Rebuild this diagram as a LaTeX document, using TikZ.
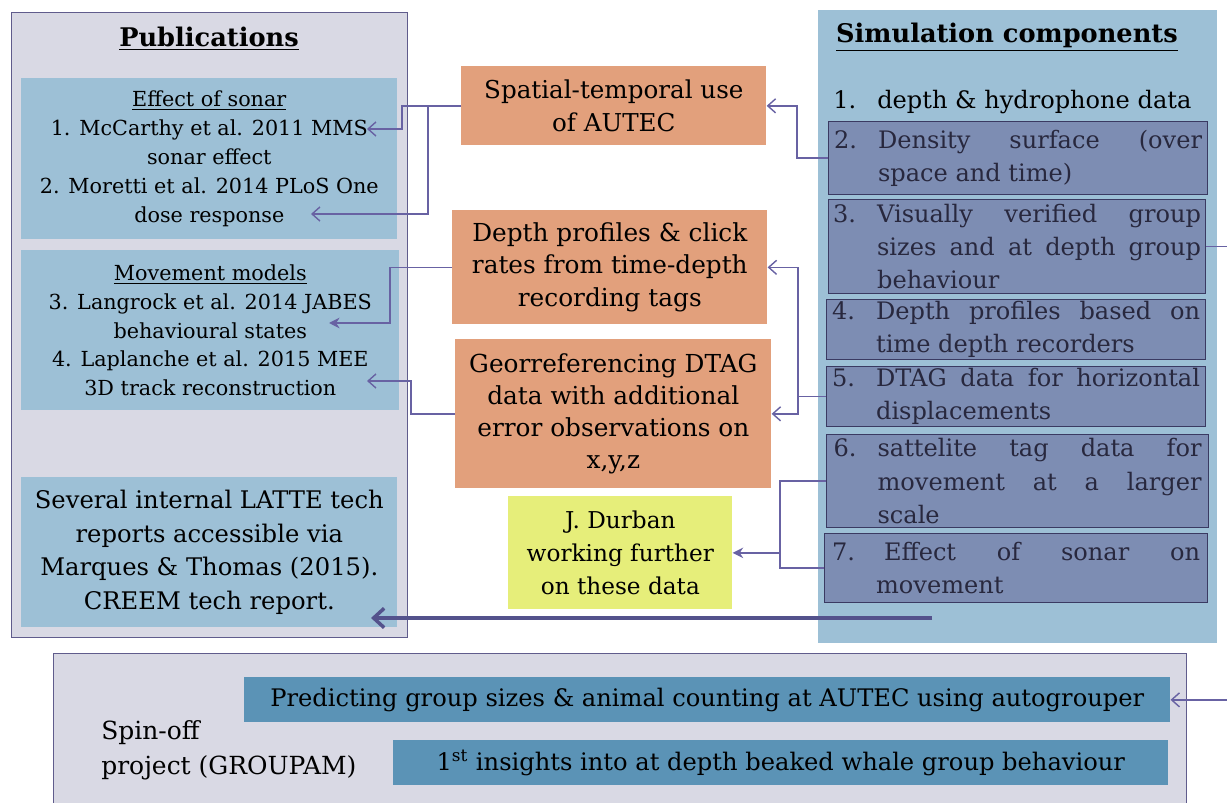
\documentclass[tikz,border=0pt]{standalone}
\usepackage{fontspec}
\setmainfont{DejaVu Serif}
\usetikzlibrary{arrows.meta}
\definecolor{graybg}{RGB}{217,217,228}
\definecolor{panelline}{RGB}{96,92,140}
\definecolor{lightblue}{RGB}{157,192,214}
\definecolor{orangebox}{RGB}{226,160,124}
\definecolor{yellowbox}{RGB}{230,238,122}
\definecolor{itemfill}{RGB}{125,141,179}
\definecolor{itemline}{RGB}{58,58,98}
\definecolor{darkblue}{RGB}{91,147,182}
\definecolor{connc}{RGB}{104,98,163}
\definecolor{thickc}{RGB}{84,82,140}
\definecolor{itemtext}{RGB}{40,40,62}
\newcommand{\nm}[1]{\makebox[0.88cm][l]{#1}}
\newcommand{\jl}[1]{\makebox[6.48cm][s]{#1}}
\newcommand{\ind}{\hspace*{0.88cm}}
\begin{document}
\begin{tikzpicture}[x=0.02cm,y=-0.02cm,
  box/.style={inner sep=0pt, anchor=north west, align=center},
  panel/.style={box, fill=graybg, draw=panelline, line width=0.8pt},
  pubbox/.style={box, fill=lightblue, font=\fontsize{11.8pt}{16.4pt}\selectfont},
  midbox/.style={box, fill=orangebox, font=\fontsize{14.1pt}{18.4pt}\selectfont},
  itembox/.style={box, align=left, fill=itemfill, draw=itemline, line width=0.7pt, text=itemtext, font=\fontsize{13.7pt}{19pt}\selectfont},
  botbox/.style={box, fill=darkblue, font=\fontsize{13.75pt}{16pt}\selectfont},
  titlefont/.style={font=\fontsize{14.6pt}{17pt}\selectfont\bfseries},
  conn/.style={draw=connc, line width=0.8pt, -{Straight Barb[length=4.5pt,width=8pt]}},
  connf/.style={draw=connc, line width=0.8pt, -{Stealth[length=6pt,width=6pt]}},
  plainline/.style={draw=connc, line width=0.8pt},
  thickconn/.style={draw=thickc, line width=2pt, -{Straight Barb[length=6pt,width=11pt]}}
]
\useasboundingbox (0,0) rectangle (1227,803);

% Publications panel
\node[panel, minimum width=7.92cm, minimum height=12.5cm] (pub) at (11,12) {};
\node[titlefont, anchor=center] (pubt) at (209,39) {\underline{Publications}};
\node[pubbox, minimum width=7.52cm, minimum height=3.22cm] (eff) at (21,78)
  {\underline{Effect of sonar}\\1. McCarthy et al. 2011 MMS\\sonar effect\\2. Moretti et al. 2014 PLoS One\\dose response};
\node[pubbox, minimum width=7.56cm, minimum height=3.2cm] (mov) at (21,250)
  {\underline{Movement models}\\3. Langrock et al. 2014 JABES\\behavioural states\\4. Laplanche et al. 2015 MEE\\3D track reconstruction};
\node[pubbox, minimum width=7.52cm, minimum height=3.0cm, font=\fontsize{13.8pt}{19.2pt}\selectfont] (sev) at (21,477)
  {Several internal LATTE tech\\reports accessible via\\Marques \& Thomas (2015).\\CREEM tech report.};

% Middle boxes
\node[midbox, minimum width=6.10cm, minimum height=1.58cm, font=\fontsize{14pt}{18.7pt}\selectfont] (sp) at (461,66) {Spatial-temporal use\\of AUTEC};
\node[midbox, minimum width=6.30cm, minimum height=2.28cm] (dp) at (452,210) {Depth profiles \& click\\rates from time-depth\\recording tags};
\node[midbox, minimum width=6.32cm, minimum height=2.98cm] (geo) at (455,339) {Georreferencing DTAG\\data with additional\\error observations on\\x,y,z};
\node[midbox, fill=yellowbox, minimum width=4.48cm, minimum height=2.26cm, font=\fontsize{13.2pt}{18.7pt}\selectfont] (dur) at (508,496) {J. Durban\\working further\\on these data};

% Simulation components panel
\node[box, fill=lightblue, minimum width=7.98cm, minimum height=12.66cm] (sim) at (818,10) {};
\node[titlefont, anchor=west] (simt) at (830,37) {\underline{Simulation components}};
\node[anchor=west, inner sep=0pt, font=\fontsize{13.7pt}{19pt}\selectfont] (i1) at (833,102) {\nm{1.}depth \& hydrophone data};
\node[itembox, minimum width=7.58cm, minimum height=1.46cm] (i2) at (828,121)
  {\nm{2.}\jl{Density surface (over}\\\ind space and time)};
\node[itembox, minimum width=7.54cm, minimum height=1.88cm] (i3) at (828,199)
  {\nm{3.}\jl{Visually verified group}\\\ind\jl{sizes and at depth group}\\\ind behaviour};
\node[itembox, minimum width=7.58cm, minimum height=1.2cm] (i4) at (826,299)
  {\nm{4.}\jl{Depth profiles based on}\\\ind time depth recorders};
\node[itembox, minimum width=7.58cm, minimum height=1.2cm] (i5) at (826,366)
  {\nm{5.}\jl{DTAG data for horizontal}\\\ind displacements};
\node[itembox, minimum width=7.64cm, minimum height=1.86cm] (i6) at (826,434)
  {\nm{6.}\jl{sattelite tag data for}\\\ind\jl{movement at a larger}\\\ind scale};
\node[itembox, minimum width=7.66cm, minimum height=1.38cm] (i7) at (824,533)
  {\nm{7.}\jl{\hspace*{0.16cm}Effect of sonar on}\\\ind movement};

% Spin-off panel
\node[panel, minimum width=22.66cm, minimum height=3.3cm] (spin) at (53,653) {};
\node[anchor=west, inner sep=0pt, align=left, font=\fontsize{14.2pt}{19.8pt}\selectfont] (spint) at (101,750) {Spin-off\\project (GROUPAM)};
\node[botbox, minimum width=18.52cm, minimum height=0.9cm] (pr) at (244,677) {Predicting group sizes \& animal counting at AUTEC using autogrouper};
\node[botbox, minimum width=15.5cm, minimum height=0.9cm] (ins) at (393,740) {1\textsuperscript{st} insights into at depth beaked whale group behaviour};

% arrow tip coordinates inside publication boxes
\coordinate (tMcC) at (367,129);
\coordinate (tDose) at (311,214);
\coordinate (tLang) at (329,323);
\coordinate (tLap) at (367,381);
\coordinate (tSev) at (371,618);
\coordinate (simsrc) at (932,618);

% connectors
\draw[conn] (sp.west) -- ++(-59,0) |- (tMcC);
\draw[conn] (sp.west) ++(-33,0) |- (tDose);
\draw[connf] (dp.west) -- ++(-62,0) |- (tLang);
\draw[conn] (geo.west) -- ++(-44,0) |- (tLap);
\draw[conn] (i2.west) -- ++(-31,0) |- (sp.east);
\draw[conn] (i5.west) -- ++(-28,0) |- (dp.east);
\draw[conn] (i5.west) ++(-28,0) |- (geo.east);
\draw[connf] (i6.west) -- ++(-46,0) coordinate (j6) |- (dur.east);
\draw[plainline] (i7.west) -| (j6);
\draw[thickconn] (simsrc) -- (tSev);
\draw[conn] (i3.east) -- ++(30,0) |- (pr.east);
\end{tikzpicture}
\end{document}
